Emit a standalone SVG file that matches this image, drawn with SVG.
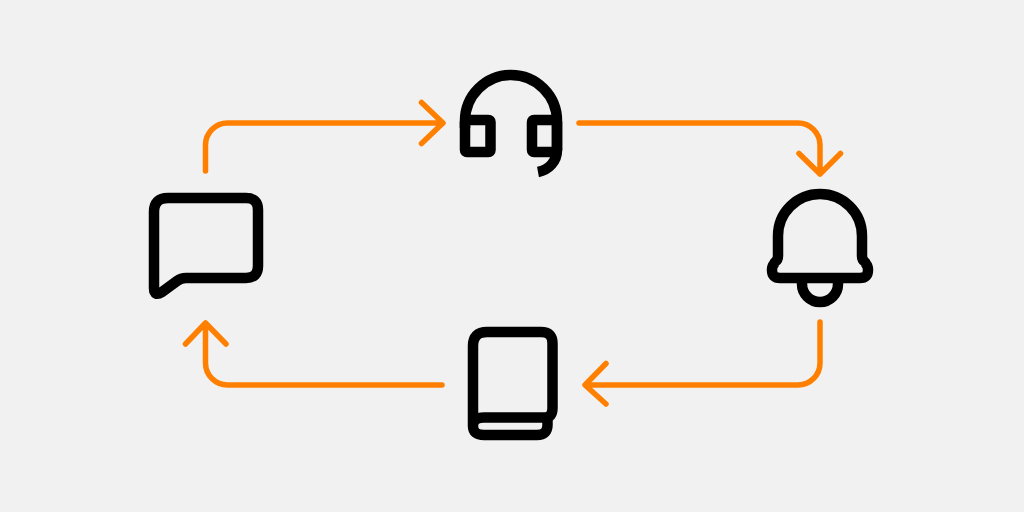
<svg xmlns="http://www.w3.org/2000/svg" width="1024" height="512" viewBox="0 0 1024 512">
<style>
.i{fill:none;stroke:#000;stroke-width:10.500;stroke-linejoin:round}
.c{fill:none;stroke:#ff8000;stroke-width:5.500;stroke-linecap:round;stroke-linejoin:round}
</style>
<rect width="1024" height="512" fill="#f1f1f1"/>
<g id="connectors">
<path class="c" d="M205.500 171V145A22 22 0 0 1 227.500 123H442M421.500 102.500L443 123L421.500 143.500"/>
<path class="c" d="M579 123H798A22 22 0 0 1 820 145V174M799 153.500L820 174L840.500 153.500"/>
<path class="c" d="M820 322V363A22 22 0 0 1 798 385H586M606 363.500L585 385L606 404"/>
<path class="c" d="M442 385H227.500A22 22 0 0 1 205.500 363V324M185.500 344L205.500 323L226 344"/>
</g>
<g id="headset">
<path class="i" d="M465 128V121A46 46 0 0 1 557 121V150C557 161 549 170 538 172"/>
<rect class="i" x="465" y="120" width="25.500" height="32" rx="2"/>
<rect class="i" x="532" y="120" width="25" height="32" rx="2"/>
</g>
<g id="bell">
<path class="i" d="M778 236A42 42 0 0 1 862 236V256Q862 260 865 262L866 264Q868 266 868 270Q868 278 860 278H780Q772 278 772 270Q772 266 774 264L775 262Q778 260 778 256Z"/>
<path class="i" d="M802 280V284A18 18 0 0 0 838 284V280"/>
</g>
<g id="book">
<path class="i" d="M473 426V346Q473 332 487 332H541Q552.500 332 552.500 343V408Q552.500 417.500 545 417.500H484Q473 417.500 473 426Q473 435 484 435H537Q547.500 435 547.500 425V418"/>
</g>
<g id="chat">
<path class="i" d="M154 212Q154 198 168 198H246Q258 198 258 210V266Q258 278 246 278H186Q181 278 177 281L162 292Q154 297 154 288Z"/>
</g>
</svg>
